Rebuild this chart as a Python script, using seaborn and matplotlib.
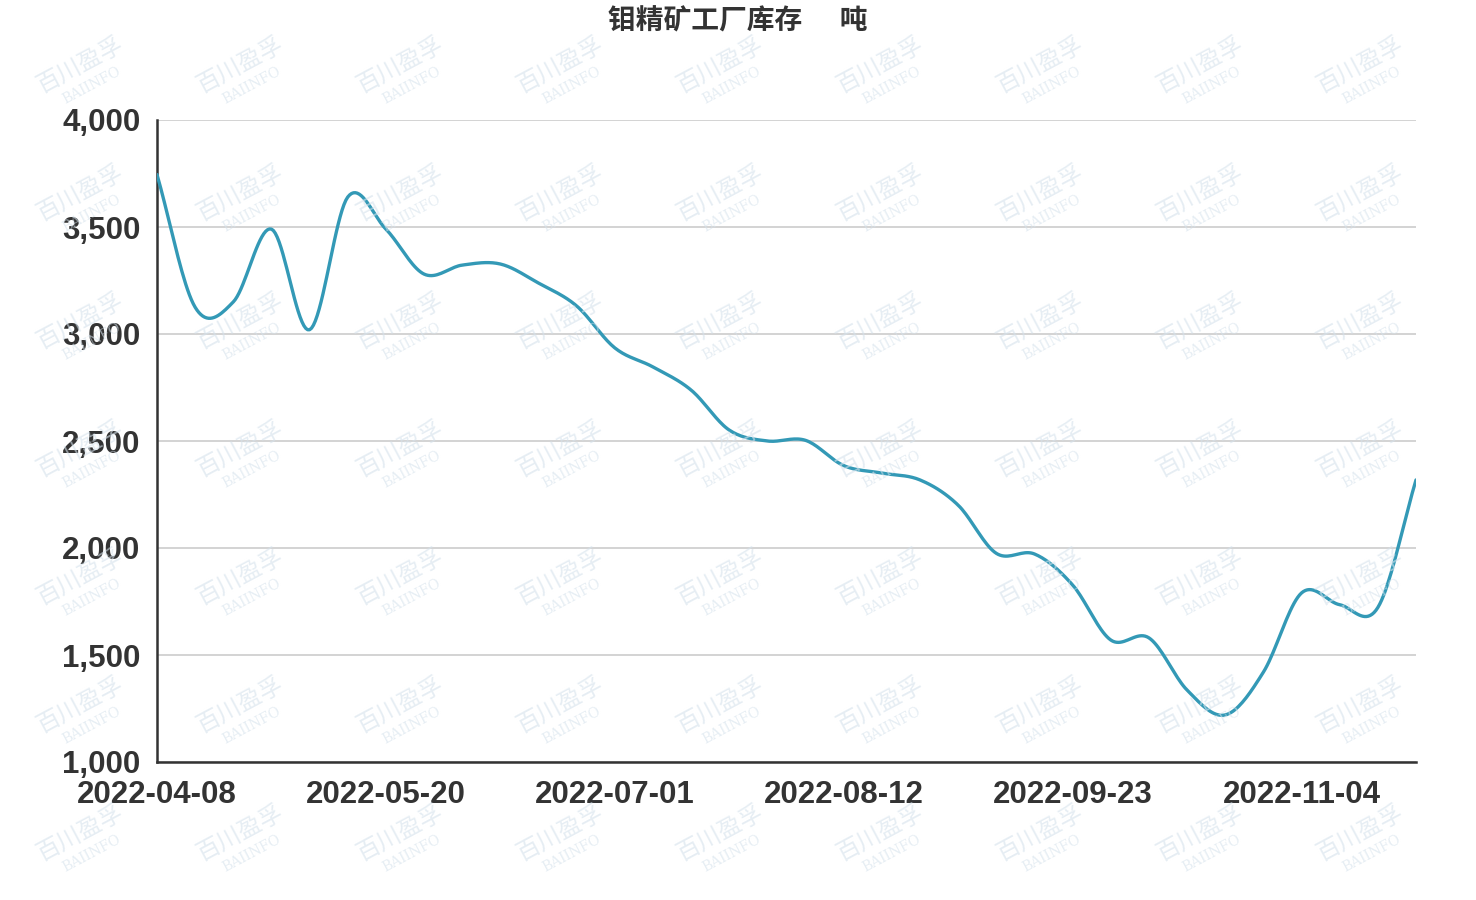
import numpy as np
import pandas as pd
import matplotlib
matplotlib.use("Agg")
import matplotlib.pyplot as plt
import matplotlib.dates as mdates
import seaborn as sns

# weekly factory inventory of molybdenum concentrate (tonnes)
start_date = "2022-04-08"
n_weeks = 34
inventory = [
    3745, 3125, 3150, 3490, 3020, 3640, 3490, 3280, 3322, 3327,
    3238, 3131, 2935, 2846, 2738, 2551, 2500, 2503, 2385, 2350,
    2318, 2200, 1975, 1972, 1827, 1570, 1580, 1336, 1220, 1420,
    1790, 1735, 1722, 2318,
]
tick_dates = ["2022-04-08", "2022-05-20", "2022-07-01",
              "2022-08-12", "2022-09-23", "2022-11-04"]
y_ticks = [1000, 1500, 2000, 2500, 3000, 3500, 4000]
title = "钼精矿工厂库存      吨"

dates = pd.date_range(start_date, periods=n_weeks, freq="7D")


def smooth_curve(x, y, steps=20):
    # catmull-rom spline through the weekly points, only used for drawing
    x = np.asarray(x, float)
    y = np.asarray(y, float)
    px = np.concatenate([[2 * x[0] - x[1]], x, [2 * x[-1] - x[-2]]])
    py = np.concatenate([[2 * y[0] - y[1]], y, [2 * y[-1] - y[-2]]])
    t = np.linspace(0, 1, steps, endpoint=False)
    xs, ys = [], []
    for i in range(1, len(px) - 2):
        for arr, out in ((px, xs), (py, ys)):
            p0, p1, p2, p3 = arr[i - 1], arr[i], arr[i + 1], arr[i + 2]
            out.append(0.5 * (2 * p1 + (-p0 + p2) * t
                              + (2 * p0 - 5 * p1 + 4 * p2 - p3) * t ** 2
                              + (-p0 + 3 * p1 - 3 * p2 + p3) * t ** 3))
    xs.append([x[-1]])
    ys.append([y[-1]])
    return np.concatenate(xs), np.concatenate(ys)


week_idx = np.arange(n_weeks)
wk, val = smooth_curve(week_idx, inventory)
df = pd.DataFrame({"date": dates[0] + pd.to_timedelta(wk * 7, unit="D"),
                   "value": val})

sns.set_style("white")
plt.rcParams["font.family"] = ["Liberation Sans", "Noto Sans CJK SC", "DejaVu Sans"]

fig = plt.figure(figsize=(14.76, 9), dpi=100)
ax = fig.add_axes([157 / 1476, 1 - 762 / 900, (1416 - 157) / 1476, (762 - 120) / 900])

# watermark
for wx in range(80, 1476, 160):
    for wy in range(65, 900, 128):
        fig.text(wx / 1476, 1 - wy / 900, "百川盈孚", fontsize=17, color="#d5e2ec",
                 alpha=0.6, rotation=28, ha="center", va="center",
                 family=["Noto Sans CJK SC"], zorder=0)
        fig.text((wx + 12) / 1476, 1 - (wy + 20) / 900, "BAIINFO", fontsize=10,
                 color="#d5e2ec", alpha=0.6, rotation=28, ha="center", va="center",
                 family=["DejaVu Serif"], zorder=0)

sns.lineplot(data=df, x="date", y="value", ax=ax, color="#3399b6",
             linewidth=2.4, sort=False, zorder=3)

ax.set_xlim(dates[0], dates[-1])
ax.set_ylim(1000, 4000)
ax.set_yticks(y_ticks)
ax.set_yticklabels([f"{v:,}" for v in y_ticks])
ax.set_xticks(pd.to_datetime(tick_dates))
ax.set_xticklabels(tick_dates)
ax.grid(axis="y", color="#cccccc", linewidth=1.2)
ax.grid(axis="x", visible=False)
ax.set_xlabel("")
ax.set_ylabel("")
ax.patch.set_alpha(0)

for side in ("top", "right"):
    ax.spines[side].set_visible(False)
for side in ("left", "bottom"):
    ax.spines[side].set_color("#333333")
    ax.spines[side].set_linewidth(1.8)

ax.tick_params(axis="both", length=7, width=1.5, color="#333333",
               labelsize=22.5, labelcolor="#333333", direction="out")
ax.tick_params(axis="x", pad=6)
ax.tick_params(axis="y", pad=5)
for lbl in ax.get_xticklabels() + ax.get_yticklabels():
    lbl.set_fontweight("bold")

fig.text(0.5, 1 - 22 / 900, title, ha="center", va="center", fontsize=20,
         fontweight="bold", color="#333333",
         family=["Noto Sans CJK SC", "DejaVu Sans"])

fig.savefig("out.png", dpi=100)
